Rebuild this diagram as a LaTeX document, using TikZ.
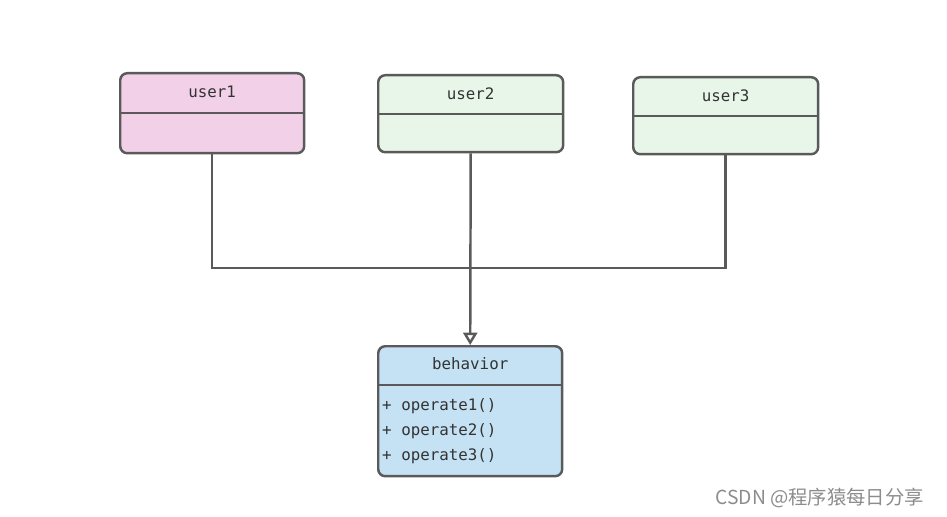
\documentclass[tikz,border=0pt]{standalone}
\usepackage{fontspec}
\usetikzlibrary{arrows.meta}
\newfontfamily\codefont{DejaVu Sans Mono}
\newfontfamily\cjk{Noto Sans CJK SC}
\definecolor{linegray}{HTML}{5A5A5A}
\definecolor{userpink}{HTML}{F2D0E8}
\definecolor{usergreen}{HTML}{E8F5E9}
\definecolor{behblue}{HTML}{C5E2F4}

\begin{document}
\begin{tikzpicture}[x=0.02cm, y=-0.02cm, line width=1.4pt,
  classbox/.style={draw=linegray, rounded corners=4pt, anchor=north west, inner sep=0pt, minimum width=3.7cm},
  title/.style={font=\codefont\fontsize{9}{11}\selectfont, text=black!80},
  method/.style={font=\codefont\fontsize{9}{11}\selectfont, text=black!80, anchor=west, inner sep=0pt},
  conn/.style={draw=linegray, line width=1.4pt}, ]
  \useasboundingbox (0,0) rectangle (947,517);

  % classes
  \node[classbox, fill=userpink, minimum width=3.68cm, minimum height=1.6cm] (u1) at (119,72) {};
  \node[classbox, fill=usergreen, minimum height=1.54cm] (u2) at (377,74) {};
  \node[classbox, fill=usergreen, minimum height=1.54cm] (u3) at (632,76) {};
  \node[classbox, fill=behblue, minimum width=3.68cm, minimum height=2.6cm] (beh) at (377,345) {};

  \draw[conn] (u1.west |- 0,113) -- (u1.east |- 0,113);
  \draw[conn] (u2.west |- 0,114) -- (u2.east |- 0,114);
  \draw[conn] (u3.west |- 0,116) -- (u3.east |- 0,116);
  \draw[conn] (beh.west |- 0,385) -- (beh.east |- 0,385);

  \node[title] (t1) at (u1.north |- 0,92) {user1};
  \node[title] (t2) at (u2.north |- 0,94) {user2};
  \node[title] (t3) at (u3.north |- 0,96) {user3};
  \node[title] (tb) at (beh.north |- 0,364) {behavior};

  \node[method] (m1) at (381,406) {+ operate1()};
  \node[method] (m2) at (381,431) {+ operate2()};
  \node[method] (m3) at (381,456) {+ operate3()};

  % connectors
  \draw[conn] (u1.south) -- (u1.south |- 0,268) -- (u3.south |- 0,268) -- (u3.south);
  \draw[conn, -{Triangle[open, length=7pt, width=8pt]}] (u2.south) -- (beh.north);

  \node[anchor=east, text=black!45, font=\cjk\fontsize{11}{13}\selectfont] (mark) at (931,498) {CSDN @程序猿每日分享};
\end{tikzpicture}
\end{document}
